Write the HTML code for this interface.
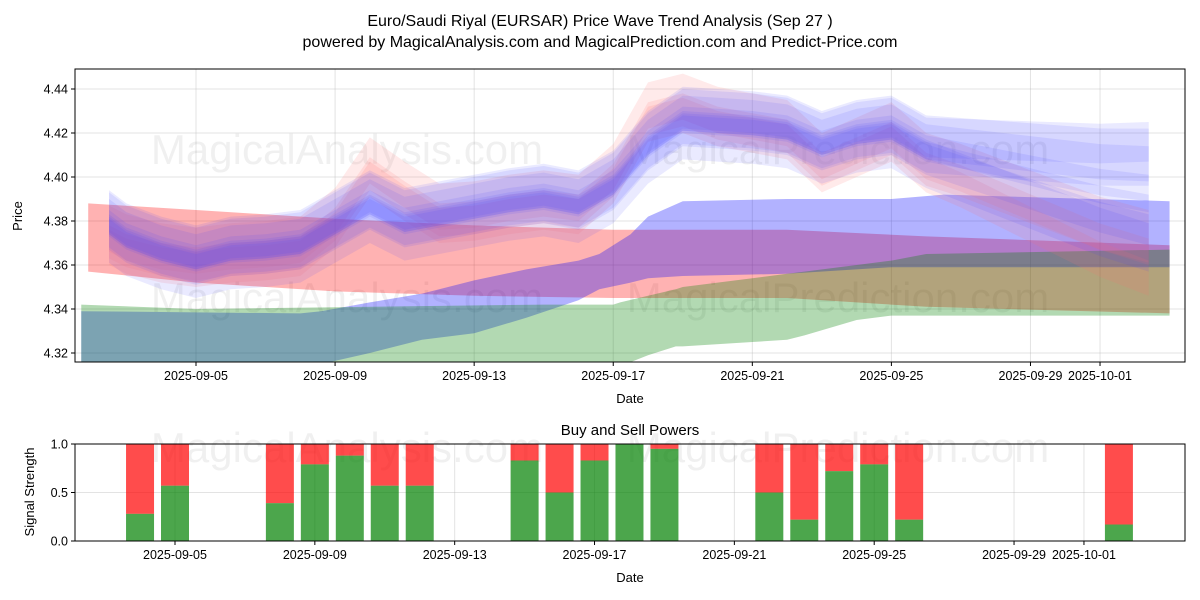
<!DOCTYPE html>
<html><head><meta charset="utf-8"><style>
html,body{margin:0;padding:0;background:#fff;}
svg{display:block;font-family:"Liberation Sans","DejaVu Sans",sans-serif;}
</style></head><body>
<svg id="chart" width="1200" height="600" viewBox="0 0 1200 600" xmlns="http://www.w3.org/2000/svg">
<rect width="1200" height="600" fill="#fff"/>
<text x="600" y="26" text-anchor="middle" font-size="16">Euro/Saudi Riyal (EURSAR) Price Wave Trend Analysis (Sep 27 )</text>
<text x="600" y="47" text-anchor="middle" font-size="16">powered by MagicalAnalysis.com and MagicalPrediction.com and Predict-Price.com</text>
<g id="topPanel"></g>
<g id="botPanel"></g>
<text x="22" y="216" transform="rotate(-90 22 216)" text-anchor="middle" font-size="13">Price</text>
<text x="630" y="403" text-anchor="middle" font-size="13">Date</text>
<text x="630" y="435" text-anchor="middle" font-size="15">Buy and Sell Powers</text>
<text x="34" y="492" transform="rotate(-90 34 492)" text-anchor="middle" font-size="13">Signal Strength</text>
<text x="630" y="582" text-anchor="middle" font-size="13">Date</text>
</svg>
<script>
const tickLabels = ["2025-09-05","2025-09-09","2025-09-13","2025-09-17","2025-09-21","2025-09-25","2025-09-29","2025-10-01"];
const tickDays = [0,4,8,12,16,20,24,26];
const yTicks = [4.32,4.34,4.36,4.38,4.40,4.42,4.44];
const redBandDays = [-3.1,0,4,8,12,17,21,28];
const redTop = [4.388,4.385,4.381,4.378,4.376,4.376,4.373,4.369];
const redBot = [4.357,4.352,4.348,4.346,4.345,4.345,4.341,4.338];
const blueBandDays = [-3.3,3,3.6,5,6.5,8,9.5,11,11.6,12.5,13,14,17,20,21.5,28];
const blueTop = [4.339,4.338,4.339,4.343,4.347,4.353,4.358,4.362,4.365,4.374,4.382,4.389,4.390,4.390,4.392,4.389];
const blueBot = [4.300,4.310,4.315,4.320,4.326,4.329,4.336,4.344,4.349,4.352,4.354,4.355,4.356,4.359,4.359,4.359];
const greenBandDays = [-3.3,0,10,12,12.2,13,13.8,14,16,17,17.5,19,20,21,28];
const greenTop = [4.342,4.340,4.342,4.342,4.343,4.346,4.349,4.350,4.354,4.356,4.357,4.360,4.362,4.365,4.367];
const greenBot = [4.290,4.290,4.290,4.300,4.314,4.319,4.323,4.323,4.325,4.326,4.328,4.335,4.337,4.337,4.337];
const waveDays = [-2.5,-2,-1,0,1,2,3,4,5,6,7,8,9,10,11,12,13,14,15,16,17,18,19,20,21,22,23,24,25,26,27.4];
const blueMid = [4.378,4.372,4.366,4.362,4.366,4.367,4.369,4.378,4.387,4.379,4.382,4.385,4.388,4.390,4.387,4.396,4.414,4.425,4.424,4.423,4.421,4.414,4.419,4.421,4.412,4.408,4.404,4.400,4.396,4.392,4.388];
const redMid = [4.372,4.368,4.364,4.362,4.364,4.365,4.367,4.380,4.403,4.392,4.382,4.383,4.386,4.388,4.386,4.400,4.428,4.432,4.426,4.423,4.420,4.405,4.412,4.419,4.405,4.400,4.394,4.388,4.382,4.376,4.370];
const blueOffsets = [0,0.004,-0.004,0.003,-0.006,0.001,0.006];
const blueHalf = [0.004,0.008,0.007,0.013,0.011,0.006,0.009];
const blueSpread = [0,0.014,-0.008,0.018,-0.014,0.006,0.022];
const redOffsets = [0,0.003,-0.004];
const redHalf = [0.006,0.012,0.008];
const redSpread = [-0.004,0.0,-0.012];
const barDays = [-1,0,3,4,5,6,7,10,11,12,13,14,17,18,19,20,21,27];
const buyPower = [0.28,0.57,0.39,0.79,0.88,0.57,0.57,0.83,0.5,0.83,1.0,0.95,0.5,0.22,0.72,0.79,0.22,0.17];

const NS="http://www.w3.org/2000/svg";
const topG=document.getElementById('topPanel'), botG=document.getElementById('botPanel');
const X0=75,X1=1185,Y0=69,Y1=362;
const xs=d=>196+d*34.77;
const ys=v=>89+(4.44-v)*2200;
const xb=d=>175+d*34.96;
const yb=v=>541-v*97;
function mk(tag,attrs,parent){const e=document.createElementNS(NS,tag);for(const k in attrs)e.setAttribute(k,attrs[k]);parent.appendChild(e);return e;}

const defs=mk('defs',{},topG);
const cp=mk('clipPath',{id:'cp'},defs);mk('rect',{x:X0,y:Y0,width:X1-X0,height:Y1-Y0},cp);
tickDays.forEach((d,i)=>{
 const g=mk('line',{x1:xs(d),x2:xs(d),y1:Y0,y2:Y1,stroke:'#b0b0b0','stroke-opacity':0.35},topG);
 
 
 mk('line',{x1:xs(d),x2:xs(d),y1:Y1,y2:Y1+4,stroke:'#000'},topG);
 const t=mk('text',{x:xs(d),y:Y1+18,'text-anchor':'middle','font-size':12.5},topG);t.textContent=tickLabels[i];
 
 
});
yTicks.forEach(v=>{
 mk('line',{x1:X0,x2:X1,y1:ys(v),y2:ys(v),stroke:'#b0b0b0','stroke-opacity':0.35},topG);
 mk('line',{x1:X0-4,x2:X0,y1:ys(v),y2:ys(v),stroke:'#000'},topG);
 const t=mk('text',{x:X0-7,y:ys(v)+4.5,'text-anchor':'end','font-size':12.5},topG);t.textContent=v.toFixed(2);
 
 
});
[[347,150,'MagicalAnalysis.com'],[838,150,'MagicalPrediction.com'],[347,298,'MagicalAnalysis.com'],[838,298,'MagicalPrediction.com']].forEach(w=>{
 const t=mk('text',{x:w[0],y:w[1]+14,'text-anchor':'middle','font-size':42,fill:'#000','fill-opacity':0.06},topG);t.textContent=w[2];
 
 
});
const plot=mk('g',{'clip-path':'url(#cp)'},topG);
function band(days,tp,bt,fill,op,name){
 let p=days.map((d,i)=>xs(d)+','+ys(tp[i]));
 let q=days.map((d,i)=>xs(d)+','+ys(bt[i])).reverse();
 const e=mk('polygon',{points:p.concat(q).join(' '),fill:fill,'fill-opacity':op},plot);
 
 
}
band(redBandDays,redTop,redBot,'#ff0000',0.3,'red-range-band');
band(blueBandDays,blueTop,blueBot,'#0000ff',0.3,'blue-range-band');
band(greenBandDays,greenTop,greenBot,'#008000',0.3,'green-range-band');
function wave(mid,off,half,spread,fill,op,name){
 const tp=[],bt=[];
 waveDays.forEach((d,i)=>{const s=d>21?spread*(d-21)/6.4:0;const c=mid[i]+off+s;tp.push(c+half);bt.push(c-half);});
 band(waveDays,tp,bt,fill,op,name);
}
redOffsets.forEach((o,i)=>wave(redMid,o,redHalf[i],redSpread[i],'#ff7070',0.15,'red-wave-band'));
blueOffsets.forEach((o,i)=>wave(blueMid,o,blueHalf[i],blueSpread[i],'#4040ff',0.11,'blue-wave-band'));
mk('rect',{x:X0,y:Y0,width:X1-X0,height:Y1-Y0,fill:'none',stroke:'#000'},topG);

const B0=444,B1=541;
[0,0.5,1].forEach(v=>{
 mk('line',{x1:X0,x2:X1,y1:yb(v),y2:yb(v),stroke:'#b0b0b0','stroke-opacity':0.35},botG);
 mk('line',{x1:X0-4,x2:X0,y1:yb(v),y2:yb(v),stroke:'#000'},botG);
 const t=mk('text',{x:X0-7,y:yb(v)+4.5,'text-anchor':'end','font-size':12.5},botG);t.textContent=v.toFixed(1);
 
 
});
tickDays.forEach((d,i)=>{
 mk('line',{x1:xb(d),x2:xb(d),y1:B0,y2:B1,stroke:'#b0b0b0','stroke-opacity':0.35},botG);
 mk('line',{x1:xb(d),x2:xb(d),y1:B1,y2:B1+4,stroke:'#000'},botG);
 const t=mk('text',{x:xb(d),y:B1+18,'text-anchor':'middle','font-size':12.5},botG);t.textContent=tickLabels[i];
 
 
});
[[347,448,'MagicalAnalysis.com'],[838,448,'MagicalPrediction.com']].forEach(w=>{
 const t=mk('text',{x:w[0],y:w[1]+14,'text-anchor':'middle','font-size':42,fill:'#000','fill-opacity':0.06},botG);t.textContent=w[2];
 
 
});
barDays.forEach((d,i)=>{
 const x=xb(d)-14,w=28,b=buyPower[i];
 const r=mk('rect',{x:x,y:yb(1),width:w,height:yb(b)-yb(1),fill:'#ff0000','fill-opacity':0.7},botG);
 
 
 const g=mk('rect',{x:x,y:yb(b),width:w,height:yb(0)-yb(b),fill:'#008000','fill-opacity':0.7},botG);
 
 
});
mk('rect',{x:X0,y:B0,width:X1-X0,height:B1-B0,fill:'none',stroke:'#000'},botG);
</script>
</body></html>
